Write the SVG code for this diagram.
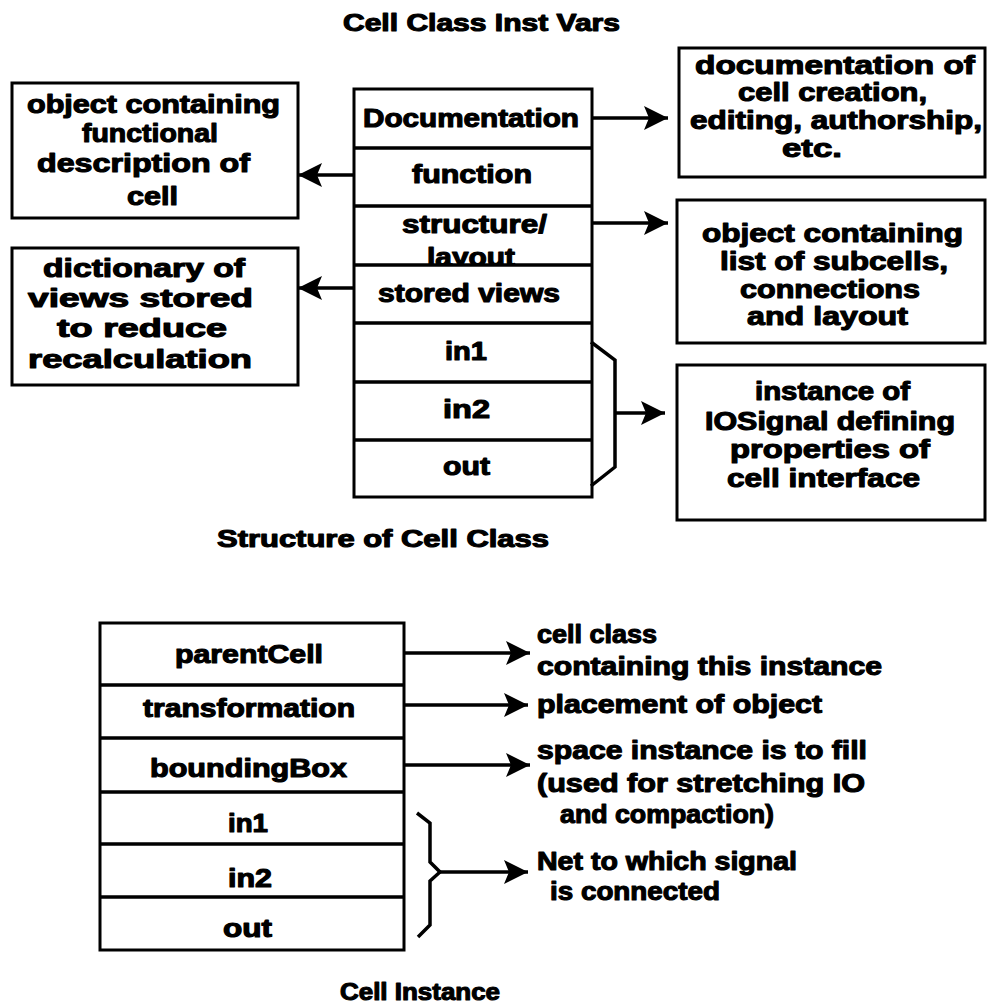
<svg xmlns="http://www.w3.org/2000/svg" width="989" height="1007" viewBox="0 0 989 1007">
<style>
  .box{fill:#fff;stroke:#000;stroke-width:3}
  .ln{fill:none;stroke:#000;stroke-width:3.5}
  .arr{fill:none;stroke:#000;stroke-width:3.5;marker-end:url(#ah)}
  text{font-family:"Liberation Sans",Arial,sans-serif;font-weight:bold;font-size:25px;fill:#000;stroke:#000;stroke-width:1.1;stroke-linejoin:round}
  .ttl{font-size:23px}
</style>
<defs>
  <marker id="ah" markerUnits="userSpaceOnUse" markerWidth="26" markerHeight="26" refX="24" refY="12" orient="auto">
    <path d="M0,0 L24,12 L0,24 L5,12 Z" fill="#000"/>
  </marker>
  <!-- keeps the second line of "structure/layout" inside its row -->
  <clipPath id="rowStructure"><rect x="354" y="206" width="238" height="58"/></clipPath>
</defs>

<!-- captions -->
<g id="captions">
  <text class="ttl" x="343" y="31" textLength="277" lengthAdjust="spacingAndGlyphs">Cell Class Inst Vars</text>
  <text class="ttl" x="217" y="547" textLength="332" lengthAdjust="spacingAndGlyphs">Structure of Cell Class</text>
  <text class="ttl" x="340" y="1000" textLength="160" lengthAdjust="spacingAndGlyphs">Cell Instance</text>
</g>

<!-- cell class instance-variable table -->
<g id="cell-class">
  <rect class="box" x="354" y="89" width="238" height="408"/>
  <path class="ln" d="M354,148 H592 M354,206 H592 M354,323 H592 M354,382 H592 M354,440 H592"/>
  <text x="363" y="127" textLength="216" lengthAdjust="spacingAndGlyphs">Documentation</text>
  <text x="412" y="183" textLength="120" lengthAdjust="spacingAndGlyphs">function</text>
  <text x="402" y="233" textLength="145" lengthAdjust="spacingAndGlyphs">structure/</text>
  <text x="427" y="266" textLength="88" lengthAdjust="spacingAndGlyphs" clip-path="url(#rowStructure)">layout</text>
  <path class="ln" d="M354,265 H592"/>
  <text x="378" y="302" textLength="182" lengthAdjust="spacingAndGlyphs">stored views</text>
  <text x="445" y="360" textLength="42" lengthAdjust="spacingAndGlyphs">in1</text>
  <text x="443" y="418" textLength="47" lengthAdjust="spacingAndGlyphs">in2</text>
  <text x="443" y="475" textLength="47" lengthAdjust="spacingAndGlyphs">out</text>
</g>

<g id="functional-description">
  <rect class="box" x="12" y="83" width="286" height="135"/>
  <text x="27" y="113" textLength="253" lengthAdjust="spacingAndGlyphs">object containing</text>
  <text x="82" y="142" textLength="136" lengthAdjust="spacingAndGlyphs">functional</text>
  <text x="37" y="172" textLength="213" lengthAdjust="spacingAndGlyphs">description of</text>
  <text x="127" y="205" textLength="51" lengthAdjust="spacingAndGlyphs">cell</text>
</g>

<g id="stored-views-dictionary">
  <rect class="box" x="12" y="248" width="286" height="137"/>
  <text x="43" y="277" textLength="202" lengthAdjust="spacingAndGlyphs">dictionary of</text>
  <text x="28" y="307" textLength="225" lengthAdjust="spacingAndGlyphs">views stored</text>
  <text x="57" y="337" textLength="170" lengthAdjust="spacingAndGlyphs">to reduce</text>
  <text x="28" y="368" textLength="224" lengthAdjust="spacingAndGlyphs">recalculation</text>
</g>

<g id="documentation-note">
  <rect class="box" x="679" y="48" width="306" height="129"/>
  <text x="695" y="74" textLength="280" lengthAdjust="spacingAndGlyphs">documentation of</text>
  <text x="738" y="101" textLength="189" lengthAdjust="spacingAndGlyphs">cell creation,</text>
  <text x="690" y="129" textLength="292" lengthAdjust="spacingAndGlyphs">editing, authorship,</text>
  <text x="782" y="157" textLength="60" lengthAdjust="spacingAndGlyphs">etc.</text>
</g>

<g id="structure-object">
  <rect class="box" x="677" y="200" width="308" height="143"/>
  <text x="702" y="242" textLength="261" lengthAdjust="spacingAndGlyphs">object containing</text>
  <text x="720" y="270" textLength="228" lengthAdjust="spacingAndGlyphs">list of subcells,</text>
  <text x="740" y="298" textLength="180" lengthAdjust="spacingAndGlyphs">connections</text>
  <text x="747" y="325" textLength="161" lengthAdjust="spacingAndGlyphs">and layout</text>
</g>

<g id="iosignal-instance">
  <rect class="box" x="677" y="365" width="308" height="155"/>
  <text x="755" y="400" textLength="155" lengthAdjust="spacingAndGlyphs">instance of</text>
  <text x="705" y="430" textLength="250" lengthAdjust="spacingAndGlyphs">IOSignal defining</text>
  <text x="730" y="458" textLength="200" lengthAdjust="spacingAndGlyphs">properties of</text>
  <text x="727" y="487" textLength="193" lengthAdjust="spacingAndGlyphs">cell interface</text>
</g>

<!-- cell instance table -->
<g id="cell-instance">
  <rect class="box" x="100" y="623" width="304" height="327"/>
  <path class="ln" d="M100,685 H404 M100,738 H404 M100,792 H404 M100,844 H404 M100,897 H404"/>
  <text x="175" y="663" textLength="148" lengthAdjust="spacingAndGlyphs">parentCell</text>
  <text x="143" y="717" textLength="212" lengthAdjust="spacingAndGlyphs">transformation</text>
  <text x="150" y="777" textLength="197" lengthAdjust="spacingAndGlyphs">boundingBox</text>
  <text x="228" y="832" textLength="40" lengthAdjust="spacingAndGlyphs">in1</text>
  <text x="228" y="887" textLength="44" lengthAdjust="spacingAndGlyphs">in2</text>
  <text x="223" y="937" textLength="49" lengthAdjust="spacingAndGlyphs">out</text>
</g>

<g id="parent-cell-note">
  <text x="537" y="643" textLength="120" lengthAdjust="spacingAndGlyphs">cell class</text>
  <text x="537" y="675" textLength="345" lengthAdjust="spacingAndGlyphs">containing this instance</text>
</g>
<g id="transformation-note">
  <text x="537" y="713" textLength="285" lengthAdjust="spacingAndGlyphs">placement of object</text>
</g>
<g id="bounding-box-note">
  <text x="537" y="759" textLength="330" lengthAdjust="spacingAndGlyphs">space instance is to fill</text>
  <text x="537" y="792" textLength="328" lengthAdjust="spacingAndGlyphs">(used for stretching IO</text>
  <text x="560" y="823" textLength="214" lengthAdjust="spacingAndGlyphs">and compaction)</text>
</g>
<g id="net-note">
  <text x="537" y="870" textLength="260" lengthAdjust="spacingAndGlyphs">Net to which signal</text>
  <text x="550" y="900" textLength="170" lengthAdjust="spacingAndGlyphs">is connected</text>
</g>

<!-- connectors -->
<g id="connectors">
  <path class="arr" d="M592,118 H668"/>
  <path class="arr" d="M354,175 H298"/>
  <path class="arr" d="M592,223 H668"/>
  <path class="arr" d="M354,288 H298"/>
  <polyline class="ln" points="591,342 615,360 615,467 591,486"/>
  <path class="arr" d="M615,413 H665"/>
  <path class="arr" d="M404,653 H530"/>
  <path class="arr" d="M404,705 H528"/>
  <path class="arr" d="M404,765 H530"/>
  <polyline class="ln" points="417,813 430,823 430,862 440,872 430,881 430,925 418,937"/>
  <path class="arr" d="M440,872 H528"/>
</g>
</svg>
